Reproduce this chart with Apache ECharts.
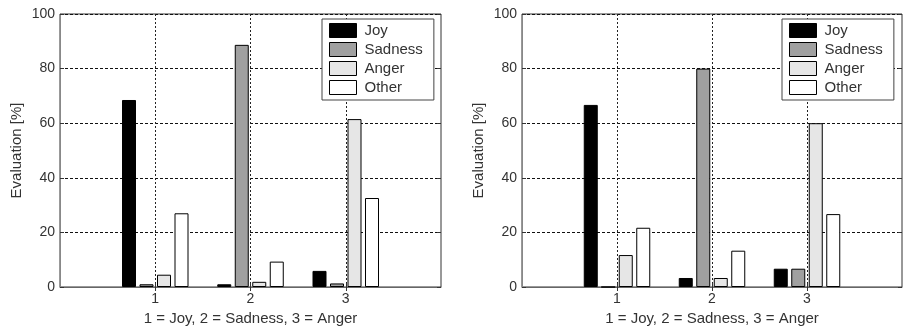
<!DOCTYPE html>
<html>
<head>
<meta charset="utf-8">
<script src="https://cdn.jsdelivr.net/npm/echarts@6/dist/echarts.min.js"></script>
<style>
  html, body { margin: 0; padding: 0; background: #fff; }
  #chart { width: 903px; height: 328px; }
</style>
</head>
<body>
<div id="chart"></div>
<script>
// Axis positions 0..4; only the three emotion groups carry labels
const xTicks = ['', '1', '2', '3', ''];
const seriesNames = ['Joy', 'Sadness', 'Anger', 'Other'];

// Left panel: evaluation shares [%] per presented emotion (1 = Joy, 2 = Sadness, 3 = Anger)
const leftJoy     = [null, 68.5, 1.0, 5.9, null];
const leftSadness = [null, 1.0, 88.7, 1.3, null];
const leftAnger   = [null, 4.5, 1.9, 61.5, null];
const leftOther   = [null, 27.0, 9.3, 32.6, null];

// Right panel
const rightJoy     = [null, 66.7, 3.3, 6.7, null];
const rightSadness = [null, 0, 80.0, 6.7, null];
const rightAnger   = [null, 11.7, 3.3, 60.0, null];
const rightOther   = [null, 21.7, 13.3, 26.7, null];

const fillColors = ['#000000', '#a0a0a0', '#e6e6e6', '#ffffff'];
const FONT = '"Liberation Sans", Arial, sans-serif';
const TEXT = '#333333';

const chart = echarts.init(document.getElementById('chart'), null, { renderer: 'canvas' });

const grids = [
  { left: 60, top: 14, width: 381, height: 273, outerBoundsMode: 'none', containLabel: false,
    show: true, borderColor: '#333', borderWidth: 1, backgroundColor: '#fff' },
  { left: 522, top: 14, width: 380, height: 273, outerBoundsMode: 'none', containLabel: false,
    show: true, borderColor: '#333', borderWidth: 1, backgroundColor: '#fff' }
];

function bottomAxis(gi) {
  return {
    type: 'category', gridIndex: gi, data: xTicks, boundaryGap: false, position: 'bottom',
    name: '1 = Joy, 2 = Sadness, 3 = Anger', nameLocation: 'middle', nameGap: 23,
    nameTextStyle: { fontFamily: FONT, fontSize: 15, color: TEXT },
    axisLine: { show: true, lineStyle: { color: '#666', width: 1 } },
    axisTick: { show: true, inside: true, length: 4, alignWithLabel: true, lineStyle: { color: '#333' },
      interval: (i) => i > 0 && i < xTicks.length - 1 },
    axisLabel: { fontFamily: FONT, fontSize: 14, color: TEXT, margin: 5, interval: 0 },
    splitLine: { show: true, interval: (i) => i > 0 && i < xTicks.length - 1,
      lineStyle: { color: '#222', type: [2, 2], width: 1 } }
  };
}
function topAxis(gi) {
  return {
    type: 'category', gridIndex: gi, data: xTicks, boundaryGap: false, position: 'top',
    axisLine: { show: false },
    axisTick: { show: true, inside: true, length: 4, lineStyle: { color: '#333' },
      interval: (i) => i > 0 && i < xTicks.length - 1 },
    axisLabel: { show: false }, splitLine: { show: false }
  };
}
function leftAxis(gi) {
  return {
    type: 'value', gridIndex: gi, min: 0, max: 100, interval: 20, position: 'left',
    name: 'Evaluation [%]', nameLocation: 'middle', nameGap: 36, nameRotate: 90,
    nameTextStyle: { fontFamily: FONT, fontSize: 15, color: TEXT },
    axisLine: { show: true, lineStyle: { color: '#888', width: 1 } },
    axisTick: { show: true, inside: true, length: 4, lineStyle: { color: '#333' } },
    axisLabel: { fontFamily: FONT, fontSize: 14, color: TEXT, margin: 5 },
    splitLine: { show: true, lineStyle: { color: '#111', type: [3, 2], width: 1 } }
  };
}
function rightAxis(gi) {
  return {
    type: 'value', gridIndex: gi, min: 0, max: 100, interval: 20, position: 'right',
    axisLine: { show: false },
    axisTick: { show: true, inside: true, length: 4, lineStyle: { color: '#333' } },
    axisLabel: { show: false }, splitLine: { show: false }
  };
}

function barSeries(name, values, idx, xi, yi) {
  return {
    name: name, type: 'bar', xAxisIndex: xi, yAxisIndex: yi,
    data: values, barWidth: 14, barGap: '25%',
    itemStyle: { color: fillColors[idx], borderColor: '#000', borderWidth: 1 },
    emphasis: { disabled: true }, animation: false
  };
}

function legendAt(left) {
  return {
    orient: 'vertical', left: left, top: 19, data: seriesNames,
    icon: 'rect', itemWidth: 27, itemHeight: 14, itemGap: 4,
    padding: [4, 11, 5, 7], backgroundColor: '#fff', borderColor: '#444', borderWidth: 1,
    selectedMode: false,
    itemStyle: { borderColor: '#000', borderWidth: 1 },
    textStyle: { fontFamily: FONT, fontSize: 15, color: TEXT, lineHeight: 14, padding: [0, 0, 0, 3] }
  };
}

const leftSets = [leftJoy, leftSadness, leftAnger, leftOther];
const rightSets = [rightJoy, rightSadness, rightAnger, rightOther];

const series = [];
seriesNames.forEach((n, i) => series.push(barSeries(n, leftSets[i], i, 0, 0)));
seriesNames.forEach((n, i) => series.push(barSeries(n, rightSets[i], i, 2, 2)));

chart.setOption({
  animation: false,
  backgroundColor: '#fff',
  grid: grids,
  xAxis: [bottomAxis(0), topAxis(0), bottomAxis(1), topAxis(1)],
  yAxis: [leftAxis(0), rightAxis(0), leftAxis(1), rightAxis(1)],
  legend: [legendAt(322), legendAt(782)],
  series: series
});
</script>
</body>
</html>
